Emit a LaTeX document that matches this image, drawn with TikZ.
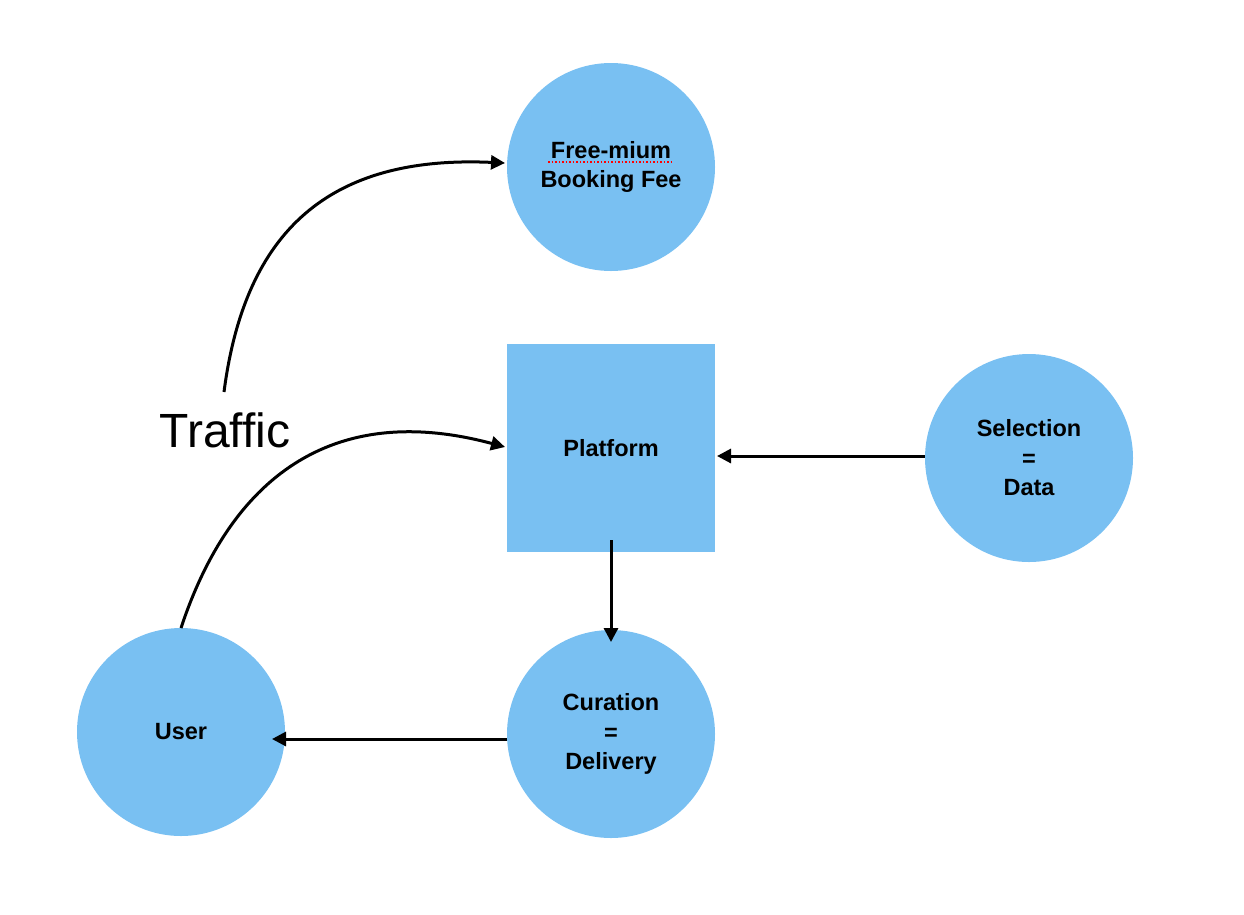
\documentclass[tikz,border=0pt]{standalone}
\usepackage{fontspec}
\setmainfont{Liberation Sans}
\usetikzlibrary{arrows.meta}
\definecolor{cblue}{HTML}{79C0F2}
\begin{document}
\begin{tikzpicture}[x=1pt,y=-1pt,
  circ/.style={circle,fill=cblue,minimum size=208pt,inner sep=0pt,align=center,font=\fontsize{23.5}{29.5}\selectfont\bfseries},
  sq/.style={rectangle,fill=cblue,minimum size=208pt,inner sep=0pt,align=center,font=\fontsize{23.5}{29.5}\selectfont\bfseries},
  arr/.style={line width=3pt,-{Triangle[length=14pt,width=14pt]}}]
\useasboundingbox (0,0) rectangle (1244,914);
\node[circ] (fee) at (611,167) {Free-mium\\Booking Fee};
\node[sq] (plat) at (611,448) {Platform};
\node[circ] (sel) at (1029,458) {Selection\\=\\Data};
\node[circ] (cur) at (611,734) {Curation\\=\\Delivery};
\node[circ] (user) at (181,732) {User};
\node[font=\fontsize{48}{52}\selectfont] (tr) at (225,430) {Traffic};
\coordinate (a) at (224,392);
\coordinate (b) at (505,163);
\draw[red,dotted,line width=1.5pt] (548,162) -- (674,162);
\draw[arr] (a) .. controls (245,230) and (330,155) .. (b);
\coordinate (c) at (181,628);
\coordinate (d) at (505,447);
\draw[arr] (c) .. controls (230,480) and (330,400) .. (d);
\draw[arr] (sel.west |- 0,456) -- (717,456);
\draw[arr] (611,540) -- (611,642);
\draw[arr] (cur.west |- 0,739) -- (272,739);
\end{tikzpicture}
\end{document}
